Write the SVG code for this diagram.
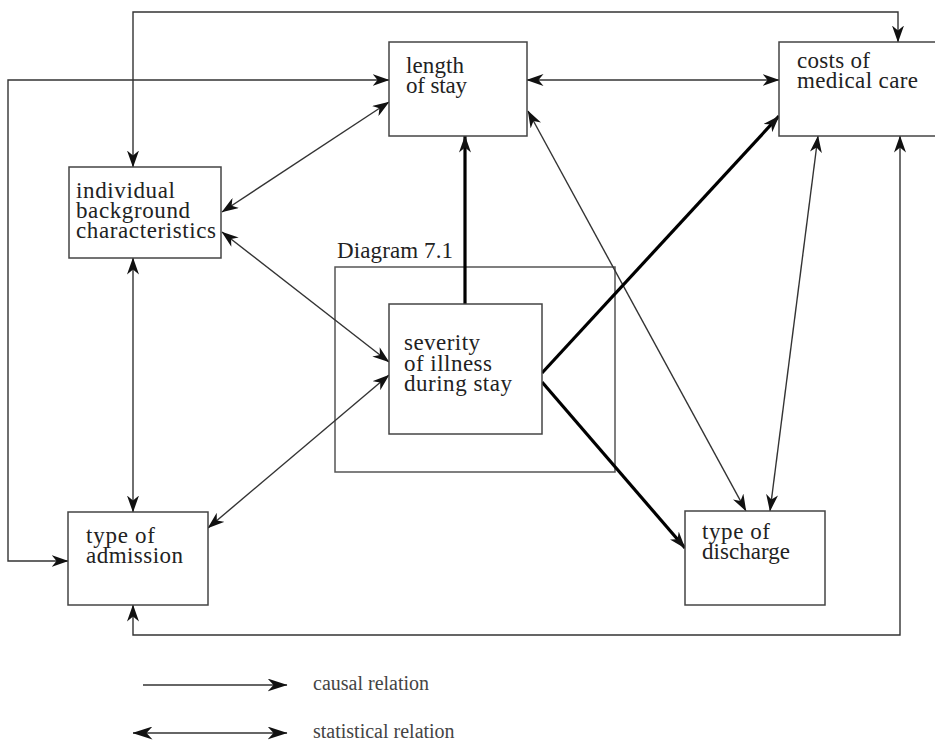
<svg xmlns="http://www.w3.org/2000/svg" width="935" height="741" viewBox="0 0 935 741">
<style>
.box{fill:#fff;stroke:#444;stroke-width:1.5}
.frame{fill:none;stroke:#555;stroke-width:1.5}
.t{font-family:"Liberation Serif","Times New Roman",serif;font-size:23px;fill:#222}
.lg{font-family:"Liberation Serif","Times New Roman",serif;font-size:20px;fill:#444}
.thin{fill:none;stroke:#333;stroke-width:1.4}
.thick{fill:none;stroke:#000;stroke-width:3.2}
.bi{marker-start:url(#ah);marker-end:url(#ah)}
.one{marker-end:url(#ah)}
.lbi{marker-start:url(#ahl);marker-end:url(#ahl)}
.lone{marker-end:url(#ahl)}
</style>
<defs>
<marker id="ah" viewBox="0 0 17 12" refX="16.5" refY="6" markerWidth="17" markerHeight="12" markerUnits="userSpaceOnUse" orient="auto-start-reverse">
<path d="M0,0 L17,6 L0,12 L5,6 Z" fill="#111"/>
</marker>
<marker id="ahl" viewBox="0 0 20 13" refX="19.5" refY="6.5" markerWidth="20" markerHeight="13" markerUnits="userSpaceOnUse" orient="auto-start-reverse">
<path d="M0,0 L20,6.5 L0,13 L6,6.5 Z" fill="#111"/>
</marker>
</defs>
<rect width="935" height="741" fill="#fff"/>

<g id="diagram-frame">
<rect class="frame" x="335" y="267" width="280" height="205"/>
<text class="t" x="337" y="258" textLength="116">Diagram 7.1</text>
</g>

<g id="connectors">
<path class="thin bi" d="M133,167 V12 H898 V42"/>
<path class="thin bi" d="M68,561 H8 V80 H389"/>
<path class="thin bi" d="M133,605 V635 H900 V136"/>
<path class="thin bi" d="M527,80 H779"/>
<path class="thin bi" d="M222,212 L389,102"/>
<path class="thin bi" d="M222,232 L389,362"/>
<path class="thin bi" d="M133,258 V512"/>
<path class="thin bi" d="M208,528 L389,375"/>
<path class="thin bi" d="M528,111 L746,511"/>
<path class="thin bi" d="M818,136 L770,511"/>
<path class="thick one" d="M465,304 V136"/>
<path class="thick one" d="M542,373 L779,116"/>
<path class="thick one" d="M542,382 L685,548"/>
</g>

<g id="length-of-stay">
<rect class="box" x="389" y="42" width="138" height="94"/>
<text class="t" x="406" y="73" textLength="58">length</text>
<text class="t" x="406" y="93" textLength="61">of stay</text>
</g>

<g id="costs-of-medical-care">
<rect class="box" x="779" y="42" width="170" height="94"/>
<text class="t" x="797" y="68" textLength="73">costs of</text>
<text class="t" x="797" y="88" textLength="121">medical care</text>
</g>

<g id="individual-background">
<rect class="box" x="69" y="167" width="152" height="91"/>
<text class="t" x="76" y="198" textLength="99">individual</text>
<text class="t" x="76" y="218" textLength="114">background</text>
<text class="t" x="76" y="238" textLength="140">characteristics</text>
</g>

<g id="severity-of-illness">
<rect class="box" x="389" y="304" width="153" height="130"/>
<text class="t" x="404" y="350" textLength="76">severity</text>
<text class="t" x="404" y="371" textLength="88">of illness</text>
<text class="t" x="404" y="391" textLength="108">during stay</text>
</g>

<g id="type-of-admission">
<rect class="box" x="68" y="512" width="140" height="93"/>
<text class="t" x="86" y="543" textLength="69">type of</text>
<text class="t" x="86" y="563" textLength="97">admission</text>
</g>

<g id="type-of-discharge">
<rect class="box" x="685" y="511" width="140" height="94"/>
<text class="t" x="702" y="539" textLength="68">type of</text>
<text class="t" x="702" y="559" textLength="88">discharge</text>
</g>

<g id="legend">
<path class="thin lone" d="M143,685 H287"/>
<text class="lg" x="313" y="690">causal relation</text>
<path class="thin lbi" d="M133,733 H287"/>
<text class="lg" x="313" y="738">statistical relation</text>
</g>
</svg>
